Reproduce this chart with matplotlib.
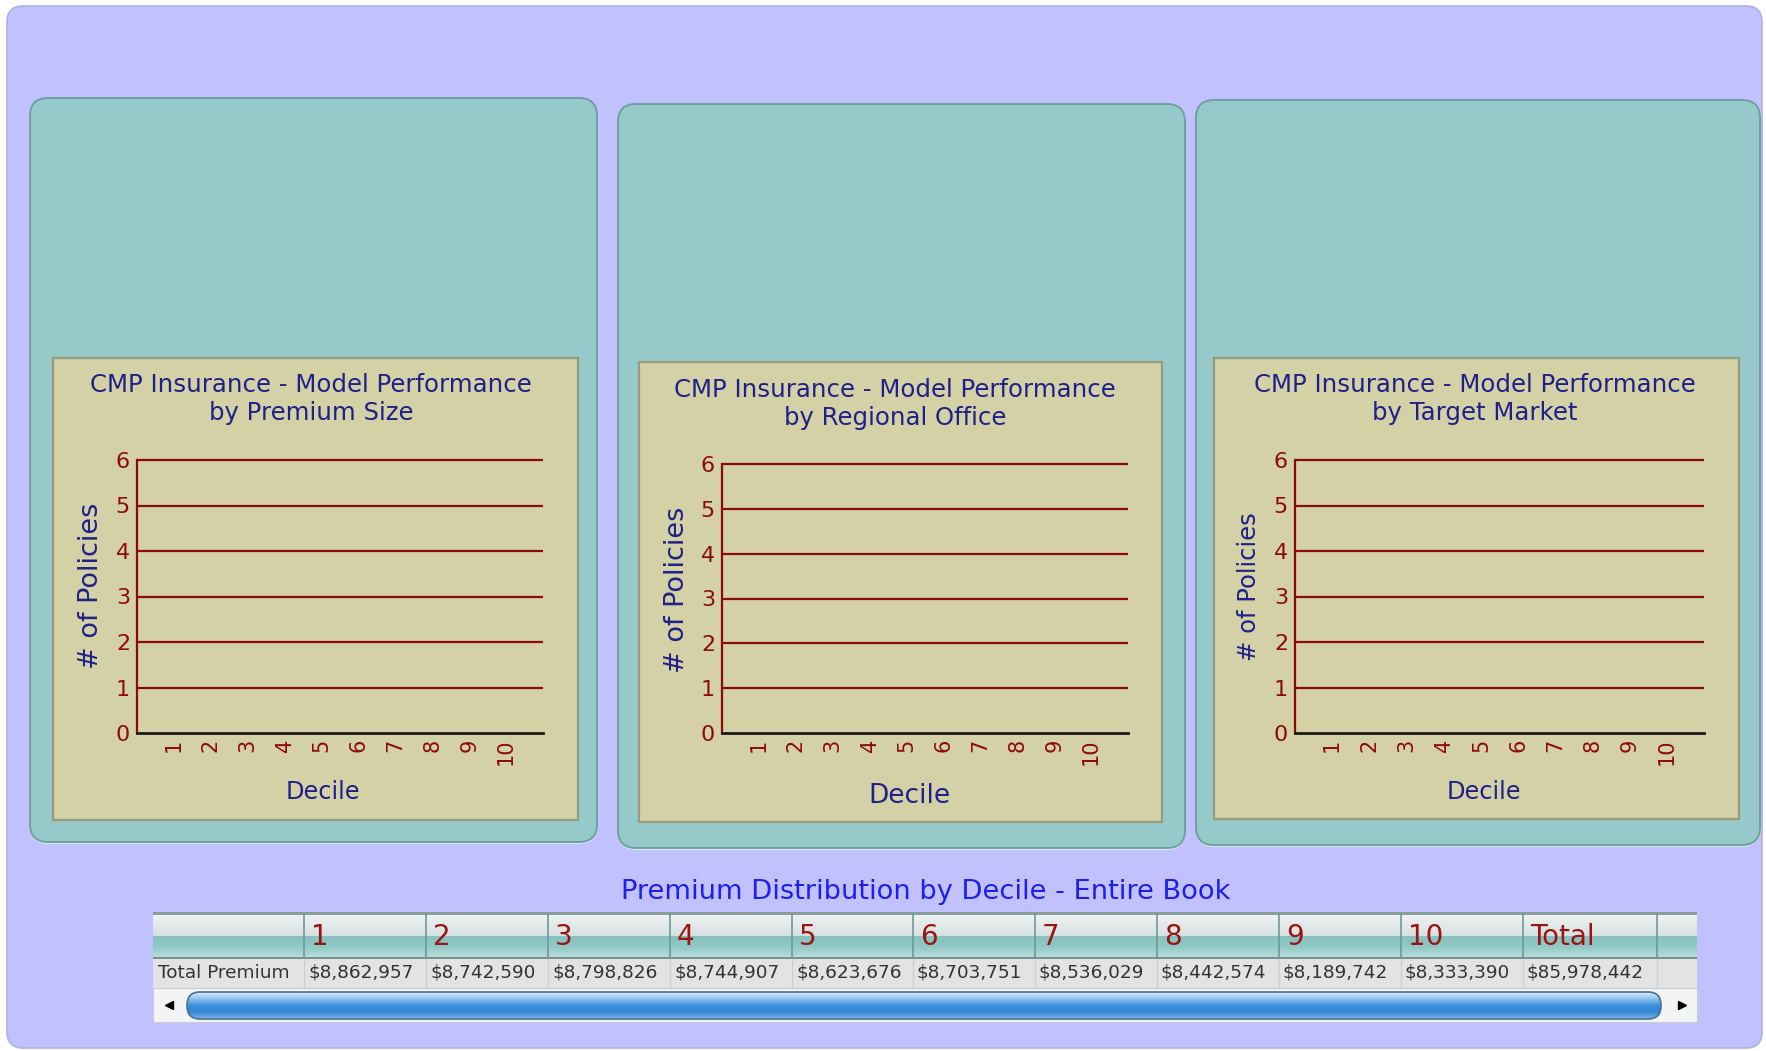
import numpy as np
import matplotlib
matplotlib.use("Agg")
import matplotlib.pyplot as plt
from matplotlib.patches import FancyBboxPatch, Rectangle

# ---------------- data ----------------
deciles = [1, 2, 3, 4, 5, 6, 7, 8, 9, 10]
policy_ticks = [0, 1, 2, 3, 4, 5, 6]
chart_titles = [
    "CMP Insurance - Model Performance\nby Premium Size",
    "CMP Insurance - Model Performance\nby Regional Office",
    "CMP Insurance - Model Performance\nby Target Market",
]
x_label = "Decile"
y_label = "# of Policies"
table_title = "Premium Distribution by Decile - Entire Book"
table_columns = ["1", "2", "3", "4", "5", "6", "7", "8", "9", "10", "Total"]
row_label = "Total Premium"
total_premium = [8862957, 8742590, 8798826, 8744907, 8623676, 8703751,
                 8536029, 8442574, 8189742, 8333390, 85978442]

# ---------------- style ----------------
W, H = 1766, 1051
LAV = "#C1C1FF"
TEAL = "#96CACA"
KHAKI = "#D3D1A5"
DRED = "#8E0A0A"
NAVY = "#202088"

fig = plt.figure(figsize=(W / 100, H / 100), dpi=100)
fig.patch.set_facecolor("white")

bg = fig.add_axes([0, 0, 1, 1], zorder=0)
bg.set_xlim(0, W)
bg.set_ylim(H, 0)
bg.axis("off")


def rbox(x0, y0, x1, y1, r, fc, ec="none", lw=0, z=1):
    p = FancyBboxPatch((x0, y0), x1 - x0, y1 - y0,
                       boxstyle=f"round,pad=0,rounding_size={r}",
                       fc=fc, ec=ec, lw=lw, zorder=z)
    bg.add_patch(p)
    return p


def grad(x0, y0, x1, y1, colors, z=2, clip=None):
    cols = np.array([matplotlib.colors.to_rgb(c) for c in colors])
    n = 100
    t = np.linspace(0, 1, n)
    xs = np.linspace(0, 1, len(colors))
    arr = np.stack([np.interp(t, xs, cols[:, k]) for k in range(3)], axis=-1)
    arr = arr[:, None, :]
    im = bg.imshow(arr, extent=[x0, x1, y1, y0], aspect="auto", zorder=z,
                   interpolation="bilinear")
    if clip is not None:
        im.set_clip_path(clip)
    return im


# outer lavender area
rbox(7, 6, 1762, 1048, 16, LAV, ec="#B0B0EE", lw=1.2, z=0.5)

# panels: teal, khaki, axes rect (pixels)
panels = [
    dict(teal=(30, 98, 597, 842), khaki=(53, 358, 578, 820),
         ax=(137, 460, 543, 733), title_y=(385, 413), title_x=311,
         ylab=(91, 586), xlab=(323, 792), ylab_fs=19.5, xlab_fs=17.3),
    dict(teal=(618, 104, 1185, 848), khaki=(639, 362, 1162, 822),
         ax=(722, 464, 1128, 733), title_y=(390, 418), title_x=895,
         ylab=(677, 590), xlab=(909, 796), ylab_fs=19.5, xlab_fs=19),
    dict(teal=(1196, 100, 1760, 845), khaki=(1214, 358, 1739, 819),
         ax=(1295, 460, 1704, 733), title_y=(385, 413), title_x=1475,
         ylab=(1249, 587), xlab=(1484, 792), ylab_fs=17.5, xlab_fs=17.3),
]

for i, p in enumerate(panels):
    x0, y0, x1, y1 = p["teal"]
    # light bottom highlight + inner dark top edge
    rbox(x0, y0 + 3, x1, y1 + 2, 18, "#D2ECEC", z=0.8)
    rbox(x0, y0, x1, y1, 18, TEAL, ec="#6F9C9C", lw=1.3, z=1)
    kx0, ky0, kx1, ky1 = p["khaki"]
    bg.add_patch(Rectangle((kx0, ky0), kx1 - kx0, ky1 - ky0, fc=KHAKI,
                           ec="#9C9A7E", lw=1.6, zorder=2))
    bg.text(p["title_x"], p["title_y"][0], chart_titles[i].split("\n")[0],
            ha="center", va="center", fontsize=17.6, color=NAVY, zorder=3)
    bg.text(p["title_x"], p["title_y"][1], chart_titles[i].split("\n")[1],
            ha="center", va="center", fontsize=17.6, color=NAVY, zorder=3)

    ax0, ay0, ax1, ay1 = p["ax"]
    ax = fig.add_axes([ax0 / W, 1 - ay1 / H, (ax1 - ax0) / W, (ay1 - ay0) / H],
                      zorder=5)
    ax.set_facecolor("none")
    ax.set_xlim(0, 11)
    ax.set_ylim(0, 6)
    ax.set_xticks(deciles)
    ax.set_xticklabels([str(d) for d in deciles], rotation=90, va="top")
    ax.set_yticks(policy_ticks)
    ax.set_yticklabels([str(v) for v in policy_ticks])
    ax.hlines(policy_ticks[1:], 0, 11, colors=DRED, lw=1.6, clip_on=False,
              zorder=1)
    ax.tick_params(length=0, labelsize=16, labelcolor=DRED, pad=5)
    ax.tick_params(axis="x", labelsize=15, pad=4)
    for s in ("top", "right"):
        ax.spines[s].set_visible(False)
    ax.spines["left"].set_color(DRED)
    ax.spines["left"].set_linewidth(1.6)
    ax.spines["bottom"].set_color("#1A1A1A")
    ax.spines["bottom"].set_linewidth(2)
    ax.spines["bottom"].set_zorder(3)

    ax.set_ylabel(y_label, fontsize=p["ylab_fs"], color=NAVY)
    ax.yaxis.set_label_coords((p["ylab"][0] - ax0) / (ax1 - ax0),
                              (ay1 - p["ylab"][1]) / (ay1 - ay0))
    ax.yaxis.label.set_va("center")
    ax.set_xlabel(x_label, fontsize=p["xlab_fs"], color=NAVY)
    ax.xaxis.set_label_coords((p["xlab"][0] - ax0) / (ax1 - ax0),
                              (ay1 - p["xlab"][1]) / (ay1 - ay0))
    ax.xaxis.label.set_va("center")

# ---------------- table ----------------
bg.text(926, 892, table_title, ha="center", va="center", fontsize=19.6,
        color="#1E1EF0", zorder=3)

edges = [153, 304, 426, 548, 670, 792, 913, 1035, 1157, 1279, 1401, 1523,
         1657, 1697]
tx0, tx1 = edges[0], edges[-1]
# top border
bg.add_patch(Rectangle((tx0, 912), tx1 - tx0, 3, fc="#8A9E9E", zorder=3))
# header gradient
grad(tx0, 915, tx1, 936, ["#EEF2F2", "#D6E0E0"], z=2)
grad(tx0, 936, tx1, 957, ["#86C2BF", "#8FC8C5", "#B8DEDC"], z=2)
bg.add_patch(Rectangle((tx0, 956.5), tx1 - tx0, 2.5, fc="#7C9090", zorder=3))
# data row
bg.add_patch(Rectangle((tx0, 959), tx1 - tx0, 29, fc="#E3E3E3", zorder=2))
# scrollbar area
bg.add_patch(Rectangle((tx0, 988), tx1 - tx0, 34, fc="#F3F4F6",
                       ec="#C8CCD0", lw=0.8, zorder=2))

for k, e in enumerate(edges[1:-1]):
    bg.plot([e, e], [915, 957], color="#6E9896", lw=1.2, zorder=3)
    bg.plot([e, e], [959, 988], color="#CFCFCF", lw=1.0, zorder=3)

for j, col in enumerate(table_columns):
    bg.text(edges[j + 1] + 7, 937, col, ha="left", va="center", fontsize=20,
            color="#9A1414", zorder=4)
bg.text(edges[0] + 5, 973, row_label, ha="left", va="center", fontsize=13.3,
        color="#333333", zorder=4)
for j, v in enumerate(total_premium):
    bg.text(edges[j + 1] + 4, 973, f"${v:,}", ha="left", va="center",
            fontsize=13.3, color="#333333", zorder=4)

# scrollbar thumb
thumb = rbox(187, 992, 1661, 1019, 13, "none", ec="#4E6E8E", lw=1.2, z=4)
grad(187, 992, 1661, 1019, ["#D8EAF8", "#8EC2EE", "#3A90DC", "#3586D4",
                            "#7DB8EA"], z=3, clip=thumb)
bg.plot([169], [1005], marker="<", color="black", ms=6, zorder=5)
bg.plot([1682], [1005], marker=">", color="black", ms=6, zorder=5)

bg.set_xlim(0, W)
bg.set_ylim(H, 0)

fig.savefig("out.png", dpi=100, facecolor="white")
